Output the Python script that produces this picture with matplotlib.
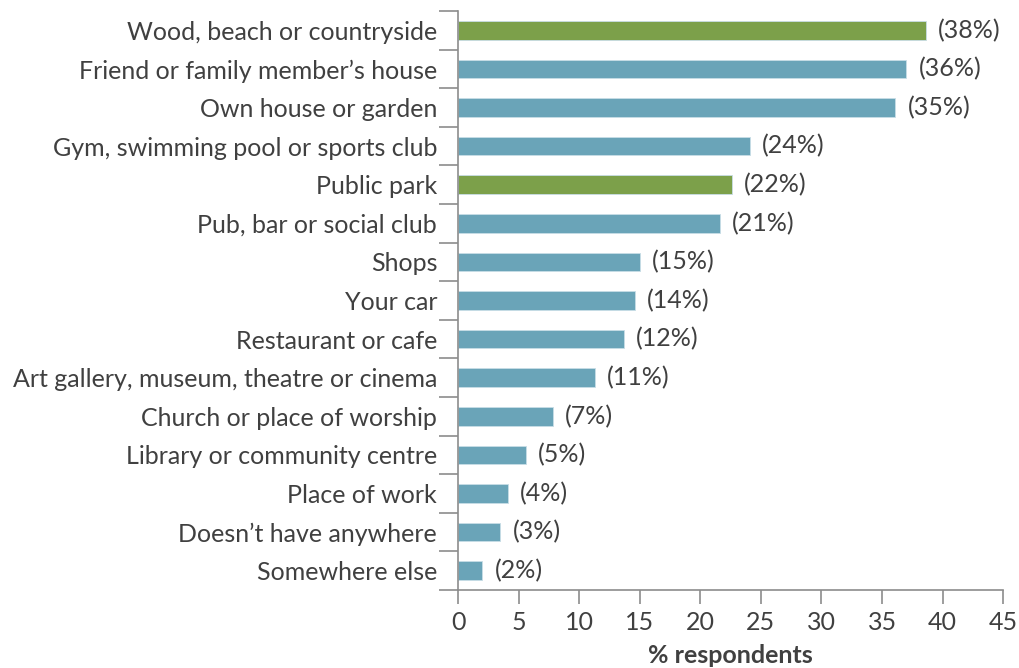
import matplotlib
matplotlib.use('Agg')
import matplotlib.pyplot as plt
import numpy as np

places = ['Wood, beach or countryside', 'Friend or family member\u2019s house', 'Own house or garden',
          'Gym, swimming pool or sports club', 'Public park', 'Pub, bar or social club', 'Shops',
          'Your car', 'Restaurant or cafe', 'Art gallery, museum, theatre or cinema',
          'Church or place of worship', 'Library or community centre', 'Place of work',
          'Doesn\u2019t have anywhere', 'Somewhere else']
values = [38.6, 37.0, 36.1, 24.1, 22.6, 21.6, 15.0, 14.6, 13.7, 11.3, 7.8, 5.6, 4.1, 3.5, 2.0]
labels = ['(38%)', '(36%)', '(35%)', '(24%)', '(22%)', '(21%)', '(15%)', '(14%)', '(12%)', '(11%)',
          '(7%)', '(5%)', '(4%)', '(3%)', '(2%)']
green_spaces = ['Wood, beach or countryside', 'Public park']

plt.rcParams['font.family'] = ['Lato', 'DejaVu Sans']
grey = '#404040'
spine = '#8c8c8c'
fs = 18

fig = plt.figure(figsize=(10.19, 6.68), dpi=100)
ax = fig.add_axes([0.4495, 0.1168, 0.535, 0.8667])

y = np.arange(len(places))
colors = ['#7ca04a' if p in green_spaces else '#6aa4b8' for p in places]
ax.barh(y, values, height=0.48, color=colors, edgecolor='#c8dde6', linewidth=0.6)
for yi, v, lab in zip(y, values, labels):
    ax.text(v + 1.0, yi, lab, va='center', ha='left', fontsize=fs, color=grey)

ax.set_ylim(len(places) - 0.5, -0.5)
ax.set_xlim(0, 45)
ax.set_xticks(np.arange(0, 46, 5))
ax.set_yticks(y)
ax.set_yticklabels(places, fontsize=fs, color=grey)
ax.set_yticks(np.arange(-0.5, len(places)), minor=True)
ax.tick_params(axis='y', which='major', length=0, pad=15)
ax.tick_params(axis='y', which='minor', length=14, color=spine, width=1.2)
ax.tick_params(axis='x', length=10, color=spine, width=1.2, labelsize=fs, labelcolor=grey, pad=5)
for s in ['top', 'right']:
    ax.spines[s].set_visible(False)
for s in ['left', 'bottom']:
    ax.spines[s].set_color(spine)
    ax.spines[s].set_linewidth(1.2)
ax.set_xlabel('% respondents', fontsize=fs, fontweight='bold', color=grey, labelpad=7)

fig.savefig('out.png', dpi=100)
